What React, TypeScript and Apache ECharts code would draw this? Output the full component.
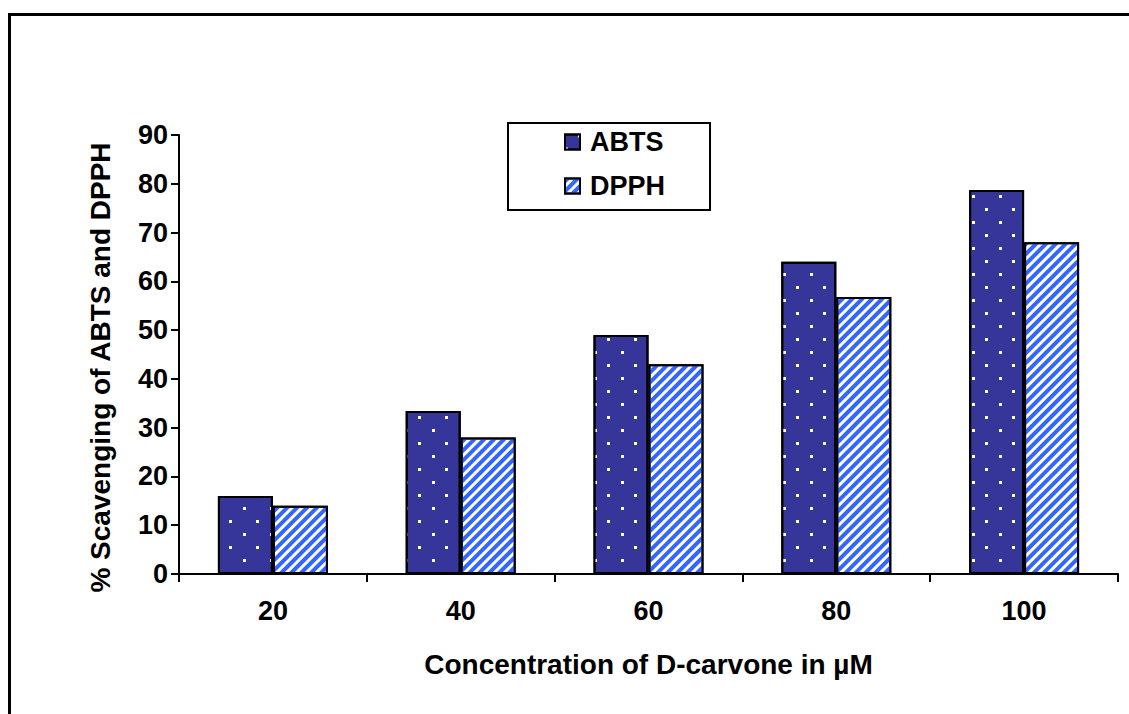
import React, { useEffect, useRef } from "react";
import * as echarts from "echarts";

const categories = ["20", "40", "60", "80", "100"];
const abtsValues = [16, 33.4, 49, 64, 78.7];
const dpphValues = [14, 28, 43, 56.8, 68];
const seriesNames = ["ABTS", "DPPH"];
const xTitle = "Concentration of D-carvone in µM";
const yTitle = "% Scavenging of ABTS and DPPH";

const FONT = "'Liberation Sans', Arial, sans-serif";

export default function App() {
  const ref = useRef<HTMLDivElement>(null);
  useEffect(() => {
    if (!ref.current) return;
    const chart = echarts.init(ref.current, null, { renderer: "svg" });
    chart.setOption({
      animation: false,
      backgroundColor: "#ffffff",
      textStyle: { fontFamily: FONT },
      graphic: [
        {
          type: "rect",
          shape: { x: 9.5, y: 14.5, width: 1200, height: 800 },
          style: { fill: "none", stroke: "#000", lineWidth: 3 },
          silent: true,
          z: 0,
        },
      ],
      grid: { left: 179, right: 11, top: 135, bottom: 140 },
      legend: {
        orient: "vertical",
        left: 508,
        top: 123,
        data: seriesNames,
        backgroundColor: "#fff",
        borderColor: "#000",
        borderWidth: 2,
        borderRadius: 0,
        padding: [4, 45, 9, 56],
        itemWidth: 15,
        itemHeight: 15,
        itemGap: 14,
        icon: "rect",
        textStyle: {
          fontFamily: FONT,
          fontSize: 27,
          fontWeight: "bold",
          color: "#000",
          lineHeight: 30,
          padding: [0, 0, 0, 5],
        },
      },
      xAxis: {
        type: "category",
        data: categories,
        boundaryGap: true,
        name: xTitle,
        nameLocation: "middle",
        nameGap: 76,
        nameTextStyle: { fontFamily: FONT, fontSize: 28, fontWeight: "bold", color: "#000" },
        axisLine: { lineStyle: { color: "#000", width: 2 } },
        axisTick: { show: true, alignWithLabel: false, length: 8, lineStyle: { color: "#000", width: 2 } },
        axisLabel: { fontFamily: FONT, fontSize: 27, fontWeight: "bold", color: "#000", margin: 23 },
        splitLine: { show: false },
      },
      yAxis: {
        type: "value",
        min: 0,
        max: 90,
        interval: 10,
        name: yTitle,
        nameLocation: "middle",
        nameGap: 65,
        nameTextStyle: {
          fontFamily: FONT,
          fontSize: 28,
          fontWeight: "bold",
          color: "#000",
          padding: [0, 26, 0, 0],
        },
        axisLine: { show: true, lineStyle: { color: "#000", width: 2 } },
        axisTick: { show: true, length: 8, lineStyle: { color: "#000", width: 2 } },
        axisLabel: { fontFamily: FONT, fontSize: 27, fontWeight: "bold", color: "#000", margin: 11 },
        splitLine: { show: false },
      },
      series: [
        {
          name: seriesNames[0],
          type: "bar",
          data: abtsValues,
          barWidth: 55,
          barGap: "0%",
          itemStyle: {
            color: "#35359A",
            borderColor: "#000",
            borderWidth: 2,
            decal: {
              symbol: "rect",
              symbolSize: 1,
              color: "#ffffff",
              dashArrayX: [
                [3, 24],
                [0, 13, 3, 11],
              ],
              dashArrayY: [3, 10],
            },
          },
        },
        {
          name: seriesNames[1],
          type: "bar",
          data: dpphValues,
          barWidth: 55,
          barGap: "0%",
          itemStyle: {
            color: "#ffffff",
            borderColor: "#000",
            borderWidth: 2,
            decal: {
              symbol: "rect",
              symbolSize: 1,
              color: "#3366FF",
              dashArrayX: [1, 0],
              dashArrayY: [4, 3],
              rotation: -Math.PI / 4,
            },
          },
        },
      ],
    });
    return () => chart.dispose();
  }, []);
  return (
    <div
      ref={ref}
      style={{ position: "fixed", left: 0, top: 0, width: 1129, height: 714 }}
    />
  );
}
